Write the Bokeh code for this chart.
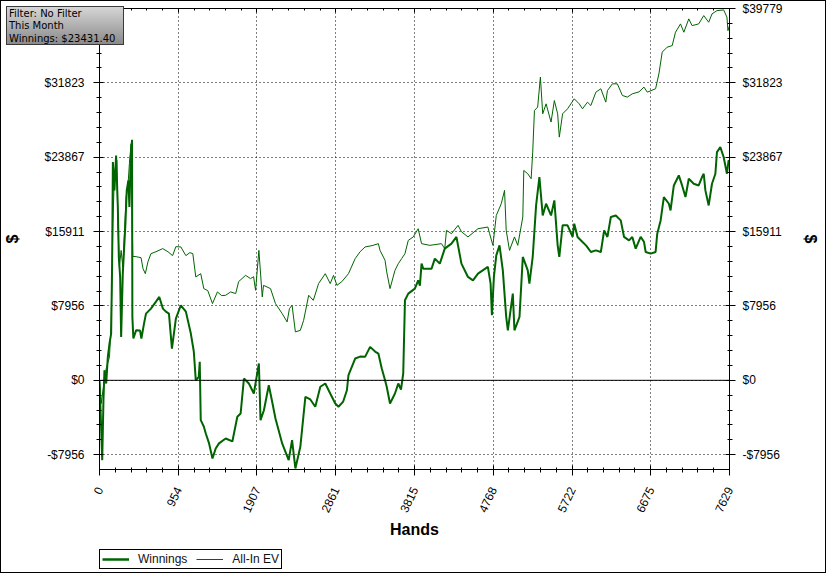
from bokeh.plotting import figure
from bokeh.layouts import column
from bokeh.models import LinearAxis, FixedTicker, Range1d, Span, Legend, LegendItem, Div
from bokeh.embed import file_html
from bokeh.resources import INLINE

# ---------------- data ----------------
x_ticks = [0, 954, 1907, 2861, 3815, 4768, 5722, 6675, 7629]
x_tick_labels = ["0", "954", "1907", "2861", "3815", "4768", "5722", "6675", "7629"]
y_ticks = [-7956, 0, 7956, 15911, 23867, 31823, 39779]
y_tick_labels = ["-$7956", "$0", "$7956", "$15911", "$23867", "$31823", "$39779"]
x_max = 7629
y_min = -9540
y_max = 39779
info_lines = ["Filter: No Filter", "This Month", "Winnings: $23431.40"]
series_names = ["Winnings", "All-In EV"]

ev_hands = [0, 21, 45, 81, 121, 141, 162, 181, 210, 222,
            241, 262, 282, 302, 322, 346, 362, 382, 403, 443,
            503, 527, 555, 587, 623, 684, 765, 829, 885, 925,
            985, 1046, 1094, 1130, 1166, 1226, 1263, 1311, 1368, 1428,
            1480, 1528, 1588, 1649, 1685, 1769, 1829, 1866, 1890, 1930,
            1971, 1986, 2071, 2131, 2212, 2272, 2300, 2332, 2372, 2432,
            2472, 2533, 2589, 2653, 2734, 2794, 2834, 2875, 2935, 3015,
            3096, 3156, 3216, 3301, 3377, 3397, 3458, 3478, 3518, 3578,
            3618, 3659, 3699, 3739, 3799, 3859, 3900, 4000, 4141, 4181,
            4202, 4262, 4342, 4383, 4462, 4583, 4703, 4724, 4764, 4805,
            4865, 4905, 4925, 4965, 5025, 5065, 5126, 5138, 5186, 5227,
            5246, 5267, 5306, 5339, 5367, 5408, 5468, 5508, 5548, 5568,
            5608, 5668, 5749, 5809, 5849, 5909, 5950, 6011, 6071, 6131,
            6151, 6211, 6271, 6332, 6392, 6452, 6533, 6593, 6633, 6734,
            6774, 6814, 6874, 6935, 6975, 7036, 7076, 7136, 7176, 7256,
            7317, 7377, 7417, 7477, 7558, 7598, 7610, 7629]
ev_values = [0, -2480, -880, 1260, 2510, 6070, 16760, 22100, 23520, 16760,
             12130, 13900, 12130, 15690, 19610, 21030, 23170, 25310, 13260, 13230,
             13120, 11950, 11410, 12700, 13550, 13760, 14090, 13760, 13340, 14300,
             14270, 13340, 13660, 13550, 11060, 11410, 9810, 9600, 8210, 9460,
             9060, 9100, 9460, 9280, 10560, 11230, 10880, 11090, 9630, 13900,
             8920, 10160, 9810, 8210, 7140, 6250, 7670, 8030, 5180, 5350,
             6420, 9100, 8560, 10350, 11410, 10350, 11230, 10160, 10560, 11410,
             13020, 13760, 14270, 14410, 14620, 13900, 12840, 11600, 9810, 11770,
             12480, 13020, 13550, 14970, 15340, 16220, 14620, 14440, 14620, 14090,
             16040, 15690, 16580, 15900, 15340, 16220, 16400, 15690, 14440, 17640,
             18890, 20320, 16040, 13900, 15340, 14440, 17470, 22450, 22100, 21570,
             24420, 28870, 29230, 32440, 28510, 29580, 27630, 29930, 28510, 26020,
             28510, 29050, 30120, 29580, 29050, 29760, 29400, 30830, 31190, 29760,
             31000, 31720, 31720, 30470, 30300, 30650, 30860, 31370, 30830, 31190,
             32790, 35110, 35640, 35810, 37240, 38130, 37240, 38670, 37950, 38130,
             39020, 38310, 39200, 39550, 39630, 38850, 37410, 37950]

win_hands = [0, 14, 33, 48, 60, 81, 101, 121, 141, 153,
             162, 181, 201, 222, 234, 250, 262, 282, 314, 330,
             350, 362, 379, 394, 398, 410, 443, 491, 507, 539,
             563, 623, 684, 724, 768, 804, 841, 877, 925, 985,
             1046, 1106, 1142, 1166, 1202, 1214, 1226, 1263, 1287, 1327,
             1368, 1407, 1447, 1528, 1609, 1669, 1709, 1749, 1809, 1869,
             1930, 1950, 1991, 2050, 2083, 2131, 2212, 2291, 2332, 2372,
             2432, 2493, 2553, 2613, 2674, 2734, 2794, 2855, 2894, 2951,
             2996, 3015, 3096, 3156, 3216, 3277, 3337, 3377, 3418, 3458,
             3478, 3518, 3578, 3618, 3651, 3678, 3699, 3739, 3819, 3859,
             3880, 3900, 3920, 4021, 4061, 4121, 4181, 4262, 4322, 4383,
             4462, 4523, 4583, 4703, 4736, 4752, 4776, 4805, 4844, 4884,
             4925, 4945, 5005, 5025, 5086, 5126, 5186, 5206, 5246, 5287,
             5327, 5367, 5408, 5468, 5508, 5548, 5568, 5608, 5668, 5729,
             5749, 5789, 5849, 5894, 5950, 6011, 6071, 6111, 6151, 6192,
             6252, 6312, 6352, 6412, 6452, 6493, 6553, 6593, 6614, 6674,
             6734, 6754, 6795, 6834, 6895, 6915, 6955, 7015, 7055, 7096,
             7136, 7196, 7256, 7296, 7317, 7337, 7377, 7417, 7458, 7477,
             7518, 7558, 7598, 7618, 7629]
win_values = [0, -3550, -8540, -2130, 1080, -340, 2510, 3930, 5000, 12480,
              23350, 20320, 24060, 18540, 13200, 11060, 4650, 11410, 16760, 20320,
              21380, 18540, 23890, 25730, 6790, 4470, 5350, 5320, 4470, 6070,
              7140, 7670, 8420, 8920, 7670, 7350, 7140, 3400, 6600, 8030,
              7350, 5000, 3080, 0, 370, 1980, -4260, -4940, -5690, -6750,
              -8360, -7290, -6750, -6220, -6540, -3900, -3550, 190, -340, -1410,
              1800, -4260, -3200, -520, -1950, -4080, -6750, -8540, -6400, -9430,
              -7110, -1760, -2050, -2830, -690, -340, -1410, -2480, -2830, -2270,
              -1060, 550, 2330, 2540, 2510, 3580, 3080, 2860, 1260, 0,
              -690, -2480, -1410, -340, -980, 730, 8560, 9280, 9810, 10700,
              10130, 12480, 11950, 11950, 13020, 12480, 14090, 14620, 15340, 12480,
              11060, 10700, 11410, 12130, 10350, 6960, 11060, 13370, 14440, 11770,
              6790, 5350, 9280, 5350, 6790, 13200, 11770, 10350, 13200, 18710,
              21750, 17640, 18890, 17640, 19250, 14440, 13200, 16580, 16580, 15340,
              16760, 15340, 14800, 14410, 13730, 13900, 13730, 16040, 15340, 17470,
              17640, 17110, 15340, 14970, 15340, 14090, 15340, 14830, 13730, 13550,
              13730, 15690, 17110, 19610, 18890, 18180, 20850, 21920, 20850, 19610,
              21570, 21030, 20850, 21750, 22100, 20320, 18710, 21030, 22100, 24420,
              24950, 23890, 22100, 23520, 23431]


def minors(majors, n=5):
    out = []
    for a, b in zip(majors[:-1], majors[1:]):
        step = (b - a) / n
        out += [a + step * k for k in range(1, n)]
    return out


x_minor = minors(x_ticks)
y_minor = minors(y_ticks)

GREEN = "#006400"
FONT = "Liberation Sans"

p = figure(width=824, height=548, x_range=Range1d(0, x_max), y_range=Range1d(y_min, y_max),
           output_backend="svg", toolbar_location=None,
           min_border_left=95, min_border_right=96, min_border_top=7, min_border_bottom=80,
           background_fill_color="white", border_fill_color="white", outline_line_color=None)

x_ticker = FixedTicker(ticks=x_ticks, minor_ticks=x_minor)
y_ticker = FixedTicker(ticks=y_ticks, minor_ticks=y_minor)


def style_axis(ax):
    ax.axis_line_color = "black"
    ax.major_tick_line_color = "black"
    ax.minor_tick_line_color = "black"
    ax.major_tick_in = 4
    ax.major_tick_out = 6
    ax.minor_tick_in = 2
    ax.minor_tick_out = 3
    ax.major_label_text_font = FONT
    ax.major_label_text_font_size = "12px"
    ax.major_label_text_color = "black"
    ax.axis_label_text_font = FONT
    ax.axis_label_text_font_size = "16px"
    ax.axis_label_text_font_style = "bold"
    ax.axis_label_text_color = "black"


# bottom axis
xa = p.xaxis[0]
style_axis(xa)
xa.ticker = x_ticker
xa.major_label_overrides = {t: l for t, l in zip(x_ticks, x_tick_labels)}
xa.major_label_orientation = 1.13
xa.major_label_standoff = 12
xa.axis_label = "Hands"
xa.axis_label_standoff = 3

# left axis
ya = p.yaxis[0]
style_axis(ya)
ya.ticker = y_ticker
left_labels = {t: l for t, l in zip(y_ticks, y_tick_labels)}
left_labels[y_ticks[-1]] = ""
ya.major_label_overrides = left_labels
ya.major_label_standoff = 9
ya.axis_label = "$"
ya.axis_label_standoff = 20

# right axis
ra = LinearAxis()
style_axis(ra)
ra.ticker = y_ticker
ra.major_label_overrides = {t: l for t, l in zip(y_ticks, y_tick_labels)}
ra.major_label_standoff = 7
ra.axis_label = "$"
ra.axis_label_standoff = 16
p.add_layout(ra, "right")

# top axis (ticks only)
ta = LinearAxis()
style_axis(ta)
ta.ticker = x_ticker
ta.major_tick_out = 0
ta.minor_tick_out = 0
ta.major_label_overrides = {t: "" for t in x_ticks}
ta.major_label_text_font_size = "1px"
ta.major_label_standoff = 0
p.add_layout(ta, "above")

# grids
p.xgrid.ticker = x_ticker
p.ygrid.ticker = y_ticker
for g in (p.xgrid, p.ygrid):
    g.grid_line_color = "black"
    g.grid_line_dash = "1 3"
    g.grid_line_width = 1

p.add_layout(Span(location=0, dimension="width", line_color="black", line_width=1))

r_ev = p.line(ev_hands, ev_values, line_color=GREEN, line_width=1)
r_w = p.line(win_hands, win_values, line_color=GREEN, line_width=2)

# legend strip under the chart (its lines lie outside its own ranges, only the legend shows)
pl = figure(width=824, height=23, x_range=Range1d(-20, -10), y_range=Range1d(-20, -10),
            output_backend="svg", toolbar_location=None,
            x_axis_location=None, y_axis_location=None,
            min_border_left=95, min_border_right=96, min_border_top=0, min_border_bottom=0,
            background_fill_color="white", border_fill_color="white", outline_line_color=None)
pl.grid.visible = False
lw = pl.line(win_hands, win_values, line_color=GREEN, line_width=2.5)
lev = pl.line(ev_hands, ev_values, line_color=GREEN, line_width=1)
legend = Legend(items=[LegendItem(label=series_names[0], renderers=[lw]),
                       LegendItem(label=series_names[1], renderers=[lev])],
                orientation="horizontal", location="top_left",
                border_line_color="black", border_line_width=1, border_line_alpha=1,
                background_fill_color="white", background_fill_alpha=1,
                label_text_font=FONT, label_text_font_size="12px", label_text_color="#111111",
                glyph_width=27, glyph_height=12, label_height=12, label_standoff=9,
                spacing=9, padding=2, margin=0)
pl.add_layout(legend, "center")

# info box, laid over the top-left corner of the chart
info_html = ('<div style="box-sizing:border-box;width:118px;height:39px;'
             'border:1px solid #3a3a3a;background:linear-gradient(#d6d6d6,#8a8a8a);'
             'font-family:\'DejaVu Sans\';font-size:10px;line-height:12.3px;color:#000;'
             'padding:1px 2px;white-space:nowrap;overflow:hidden;">'
             + "<br>".join(info_lines) + '</div>')
info = Div(text=info_html, width=118, height=39,
           styles={"position": "absolute", "left": "0px", "top": "0px", "z-index": "10"})

layout = column(p, pl, info, spacing=0)
layout.styles = {"border": "1px solid black", "position": "relative"}

open("out.html", "w").write(file_html(layout, INLINE))
